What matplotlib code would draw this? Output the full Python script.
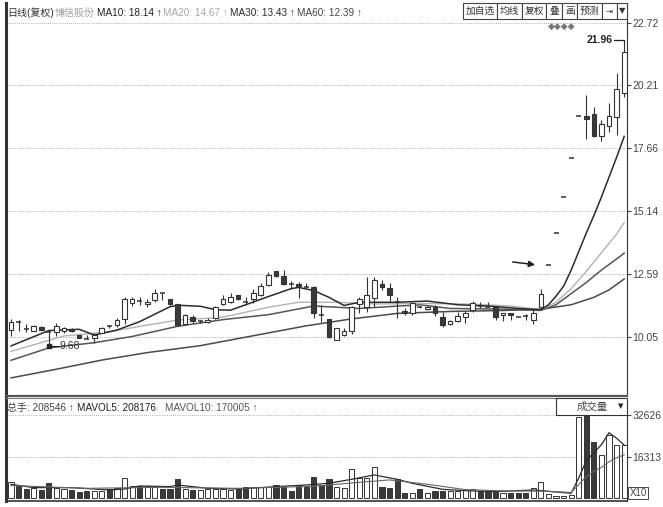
import matplotlib
matplotlib.use('Agg')
import matplotlib.pyplot as plt
from matplotlib.patches import Rectangle

plt.rcParams['font.family'] = ['Liberation Sans', 'Noto Sans CJK SC', 'DejaVu Sans']

# 日K线 (复权) 数据
opens = [10.33, 10.67, 10.40, 10.31, 10.47, 10.28, 10.27, 10.31, 10.39, 10.13,
         9.97, 10.00, 10.23, 10.50, 10.53, 10.76, 11.43, 11.52, 11.38, 11.54,
         11.82, 11.57, 11.38, 10.57, 10.87, 10.67, 10.66, 10.80, 11.38, 11.47,
         11.74, 11.48, 11.57, 11.74, 12.15, 12.71, 12.51, 12.20, 12.19, 12.06,
         12.05, 10.95, 10.76, 9.93, 10.13, 10.31, 11.38, 11.25, 11.61, 12.19,
         12.01, 11.48, 11.10, 11.00, 11.29, 11.17, 11.27, 10.84, 10.57, 10.71,
         10.87, 11.14, 11.30, 11.29, 11.27, 10.94, 11.00, 10.88, 10.92, 10.74,
         11.25, 12.96, 14.26, 15.68, 17.25, 18.97, 18.96, 19.04, 18.15, 18.56,
         18.92, 19.89]
highs = [10.76, 10.72, 10.57, 10.52, 10.49, 10.33, 10.63, 10.47, 10.42, 10.15,
         10.13, 10.20, 10.44, 10.53, 10.80, 11.68, 11.68, 11.68, 11.57, 11.97,
         11.82, 11.60, 11.40, 10.96, 10.94, 10.75, 10.80, 11.30, 11.74, 11.84,
         11.76, 11.68, 11.97, 12.24, 12.68, 12.73, 12.75, 12.32, 12.28, 12.21,
         12.11, 11.34, 10.78, 10.42, 10.40, 11.30, 11.68, 12.48, 12.46, 12.35,
         12.21, 11.68, 11.21, 11.47, 11.30, 11.29, 11.33, 11.07, 10.73, 11.07,
         11.10, 11.51, 11.47, 11.47, 11.30, 11.03, 11.02, 10.89, 10.98, 11.14,
         11.97, 12.96, 14.26, 15.68, 17.25, 18.97, 19.81, 19.32, 18.80, 19.49,
         20.70, 21.96]
lows = [10.09, 10.28, 10.27, 10.29, 10.31, 9.68, 10.09, 10.20, 10.26, 9.99,
        9.95, 9.80, 10.20, 10.40, 10.47, 10.57, 11.30, 11.34, 11.25, 11.47,
        11.54, 11.36, 10.49, 10.55, 10.60, 10.62, 10.60, 10.78, 11.34, 11.43,
        11.56, 11.34, 11.41, 11.70, 12.11, 12.48, 12.15, 11.97, 11.61, 12.01,
        10.80, 10.67, 10.00, 9.91, 10.09, 10.17, 11.00, 11.07, 11.25, 11.94,
        11.47, 10.80, 10.94, 10.94, 11.22, 11.15, 10.90, 10.44, 10.55, 10.67,
        10.63, 11.07, 11.21, 11.25, 10.74, 10.71, 10.74, 10.86, 10.74, 10.57,
        11.21, 12.96, 14.26, 15.68, 17.25, 18.97, 18.03, 18.10, 17.95, 18.32,
        18.20, 19.73]
closes = [10.67, 10.66, 10.39, 10.49, 10.33, 10.26, 10.49, 10.40, 10.28, 10.00,
          9.96, 10.13, 10.40, 10.49, 10.73, 11.57, 11.57, 11.51, 11.47, 11.84,
          11.81, 11.38, 10.53, 10.94, 10.71, 10.69, 10.72, 11.27, 11.57, 11.68,
          11.58, 11.47, 11.81, 12.11, 12.55, 12.51, 12.19, 12.19, 12.11, 12.05,
          11.00, 10.94, 10.04, 10.40, 10.29, 11.25, 11.57, 11.74, 12.35, 12.08,
          11.74, 11.47, 11.00, 11.41, 11.27, 11.27, 11.00, 10.53, 10.71, 10.90,
          11.03, 11.41, 11.28, 11.27, 10.84, 11.00, 10.94, 10.87, 10.91, 11.03,
          11.78, 12.96, 14.26, 15.68, 17.25, 18.97, 18.84, 18.15, 18.64, 18.96,
          20.05, 21.55]
# 成交量 (X10)
volumes = [6264, 4829, 3524, 4046, 3263, 6134, 4176, 3524, 3263, 2610,
           2871, 2871, 2871, 3524, 4176, 8091, 4829, 4829, 4829, 4568,
           3524, 3524, 7439, 3654, 3263, 3263, 3524, 3654, 3654, 3263,
           3524, 4568, 4307, 4307, 4568, 5220, 4307, 2871, 5220, 4307,
           8483, 5220, 7700, 4568, 4176, 11484, 8091, 7830, 12398, 4568,
           4176, 7439, 2219, 2219, 3524, 2219, 3002, 3002, 3002, 3002,
           3263, 3524, 3002, 3002, 3002, 1958, 1958, 1958, 1958, 3915,
           6525, 1697, 900, 900, 1175, 31973, 34500, 22185, 16965, 24795,
           20880, 20855]

# 均线 (读图取点)
ma10_idx = [0, 5, 9, 11, 14, 17, 21, 22, 25, 27, 29, 34, 37, 38, 40, 42, 44, 46,
            48, 51, 55, 59, 63, 67, 70, 71, 72, 73, 74, 75, 76, 77, 78, 79, 80, 81]
ma10_val = [9.69, 10.31, 10.36, 10.13, 10.33, 10.67, 11.27, 11.33, 11.29, 11.15,
            11.13, 11.68, 12.0, 12.05, 11.92, 11.65, 11.32, 11.45, 11.45, 11.45,
            11.5, 11.35, 11.3, 11.2, 11.15, 11.35, 11.7, 12.1, 12.75, 13.5,
            14.25, 14.95, 15.7, 16.5, 17.3, 18.14]
ma20_idx = [0, 7, 13, 18, 22, 28, 34, 38, 43, 48, 54, 60, 66, 70, 72, 74, 76, 78, 80, 81]
ma20_val = [9.47, 10.09, 10.26, 10.53, 10.73, 10.85, 11.25, 11.45, 11.45, 11.38,
            11.4, 11.38, 11.3, 11.15, 11.45, 12.0, 12.7, 13.45, 14.2, 14.67]
ma30_idx = [0, 5, 11, 16, 22, 28, 34, 40, 46, 54, 58, 64, 70, 72, 74, 76, 78, 80, 81]
ma30_val = [9.11, 9.61, 9.82, 10.07, 10.48, 10.75, 10.95, 11.3, 11.2, 11.35,
            11.2, 11.18, 11.12, 11.35, 11.8, 12.25, 12.75, 13.2, 13.43]
ma60_idx = [0, 6, 12, 18, 25, 32, 39, 45, 51, 58, 65, 70, 74, 77, 79, 81]
ma60_val = [8.40, 8.75, 9.12, 9.42, 9.70, 10.1, 10.5, 10.78, 11.0, 11.08,
            11.12, 11.17, 11.35, 11.65, 11.95, 12.39]

mavol5_idx = [0, 3, 8, 13, 15, 17, 21, 22, 26, 30, 35, 39, 42, 45, 48, 51, 53, 57,
              60, 64, 69, 73, 74, 75, 76, 77, 78, 79, 80, 81]
mavol5_val = [5481, 4176, 4176, 3263, 3654, 4829, 4568, 5220, 3915, 3654, 4568,
              5220, 5873, 7439, 9135, 7439, 5873, 3524, 3002, 2610, 3263, 2219,
              1958, 8000, 14800, 17900, 21000, 25700, 23500, 20818]
mavol10_idx = [0, 10, 20, 30, 40, 45, 50, 55, 60, 65, 70, 74, 75, 76, 77, 78, 79, 80, 81]
mavol10_val = [5000, 3900, 4300, 3900, 4700, 6000, 7200, 5500, 3400, 2900, 2800,
               2300, 5400, 8500, 10600, 12100, 14300, 15900, 17000]

price_ticks = [10.05, 12.59, 15.14, 17.66, 20.21, 22.72]
vol_ticks = [16313, 32626]
buttons = ['加自选', '均线', '复权', '叠', '画', '预测', '⇥', '▼']
button_edges = [463, 497, 522, 546, 562, 577, 602, 617, 627]

W, H = 663, 507
fig = plt.figure(figsize=(W / 100, H / 100), dpi=100)


def fx(px):
    return px / W


def fy(py):
    return 1 - py / H


DARK = '#333333'
GRID = dict(linestyle=(0, (1, 1.5)), color='#9a9a9a', lw=0.6)

# ---- K线 ----
ax = fig.add_axes([fx(6), fy(396), fx(627) - fx(6), fy(3) - fy(396)])
n = len(closes)
xs = list(range(n))
ax.set_xlim(-0.66, 81.37)
ax.set_ylim(7.67, 23.52)

ax.vlines(xs, lows, highs, color=DARK, lw=0.8, zorder=3)
for i in xs:
    o, c = opens[i], closes[i]
    body = abs(c - o)
    if body < 0.03:
        ax.hlines(c, i - 0.33, i + 0.33, color=DARK, lw=1.1, zorder=4)
    else:
        ax.bar(i, body, bottom=min(o, c), width=0.62,
               facecolor='white' if c >= o else '#3a3a3a',
               edgecolor=DARK, lw=0.8, zorder=4)

ax.plot(ma60_idx, ma60_val, color='#4a4a4a', lw=1.1, zorder=2)
ax.plot(ma30_idx, ma30_val, color='#555555', lw=1.1, zorder=2)
ax.plot(ma20_idx, ma20_val, color='#b3b3b3', lw=1.0, zorder=2)
ax.plot(ma10_idx, ma10_val, color='#2b2b2b', lw=1.1, zorder=2)

ax.yaxis.tick_right()
ax.set_yticks(price_ticks)
ax.set_yticklabels(['%.2f' % v for v in price_ticks])
ax.tick_params(axis='y', labelsize=7.5, colors='#444444', length=3, pad=1)
ax.set_xticks([])
ax.grid(axis='y', **GRID)
ax.spines['top'].set_visible(False)
ax.spines['left'].set_linewidth(2.2)
ax.spines['left'].set_color(DARK)
ax.spines['right'].set_color(DARK)
ax.spines['bottom'].set_linewidth(1.6)
ax.spines['bottom'].set_color('#555555')

# 标注
ax.annotate('', xy=(69.6, 12.95), xytext=(65.9, 13.09),
            arrowprops=dict(arrowstyle='-|>', color='#222222', lw=1.1,
                            mutation_scale=9))
ax.plot([79.6, 81, 81], [22.02, 22.02, 21.96], color='#222222', lw=0.9)
ax.text(79.5, 22.02, '21.96', fontsize=7.5, ha='right', va='center',
        color='#222222', weight='bold')
ax.plot(5, 9.68, marker='s', ms=2.5, color='#222222')
ax.plot([5, 6.3], [9.68, 9.68], color='#222222', lw=0.8)
ax.text(6.4, 9.68, '9.68', fontsize=7.5, ha='left', va='center', color='#333333')

# ---- 成交量 ----
axv = fig.add_axes([fx(6), fy(501), fx(627) - fx(6), fy(398) - fy(501)])
axv.set_xlim(-0.66, 81.37)
axv.set_ylim(-1057, 39267)
vol_colors = ['white' if closes[i] >= opens[i] else '#3a3a3a' for i in xs]
axv.bar(xs, volumes, width=0.68, color=vol_colors, edgecolor=DARK, lw=0.7, zorder=3)
axv.plot(mavol5_idx, mavol5_val, color='#2b2b2b', lw=0.9, zorder=4)
axv.plot(mavol10_idx, mavol10_val, color='#666666', lw=0.8, zorder=4)
axv.yaxis.tick_right()
axv.set_yticks(vol_ticks)
axv.set_yticklabels([str(v) for v in vol_ticks])
axv.tick_params(axis='y', labelsize=7.5, colors='#444444', length=3, pad=1)
axv.set_xticks([])
axv.grid(axis='y', **GRID)
axv.spines['left'].set_linewidth(2.2)
axv.spines['left'].set_color(DARK)
axv.spines['right'].set_color(DARK)
axv.spines['top'].set_color('#777777')
axv.spines['bottom'].set_color(DARK)
axv.spines['bottom'].set_linewidth(1.2)

# 成交量 选择框
axv.add_patch(Rectangle((fx(556), fy(415)), fx(627) - fx(556), fy(398) - fy(415),
                        transform=fig.transFigure, facecolor='white',
                        edgecolor=DARK, lw=0.8, zorder=5))
fig.text(fx(592), fy(407), '成交量', fontsize=7.5, ha='center', va='center',
         color='#444444', zorder=6)
fig.text(fx(621), fy(406), '▼', fontsize=5, ha='center', va='center',
         color='#222222', family='DejaVu Sans', zorder=6)
fig.text(fx(638), fy(493), 'X10', fontsize=7, ha='center', va='center',
         color='#444444',
         bbox=dict(boxstyle='square,pad=0.15', facecolor='white',
                   edgecolor='#444444', lw=0.7))

# ---- 顶部文字 ----
head_y = fy(13)
fig.text(fx(7), head_y, '日线(复权)', fontsize=7.2, va='center', color='#333333')
fig.text(fx(55), head_y, '博信股份', fontsize=7.2, va='center', color='#a0a0a0')
fig.text(fx(97), head_y, 'MA10: 18.14 ↑', fontsize=7.2, va='center', color='#222222')
fig.text(fx(163), head_y, 'MA20: 14.67 ↑', fontsize=7.2, va='center', color='#a8a8a8')
fig.text(fx(230), head_y, 'MA30: 13.43 ↑', fontsize=7.2, va='center', color='#2a2a2a')
fig.text(fx(297), head_y, 'MA60: 12.39 ↑', fontsize=7.2, va='center', color='#444444')

for k, lab in enumerate(buttons):
    x0, x1 = button_edges[k], button_edges[k + 1]
    fig.patches.append(Rectangle((fx(x0), fy(19)), fx(x1) - fx(x0), fy(3) - fy(19),
                                 transform=fig.transFigure, facecolor='white',
                                 edgecolor='#444444', lw=0.8))
    fam = ['DejaVu Sans'] if lab in ('⇥', '▼') else None
    fig.text(fx((x0 + x1) / 2), fy(11), lab, fontsize=7 if fam is None else 6,
             ha='center', va='center', color='#333333',
             family=fam if fam else plt.rcParams['font.family'])
fig.text(fx(562), fy(26), '◆◆◆◆', fontsize=6.5, ha='center', va='center',
         color='#777777', family='DejaVu Sans')

vol_y = fy(408)
fig.text(fx(7), vol_y, '总手: 208546 ↑', fontsize=7.2, va='center', color='#444444')
fig.text(fx(77), vol_y, 'MAVOL5: 208176', fontsize=7.2, va='center', color='#222222')
fig.text(fx(155), vol_y, '↓', fontsize=6.5, va='center', color='#bbbbbb')
fig.text(fx(165), vol_y, 'MAVOL10: 170005 ↑', fontsize=7.2, va='center', color='#555555')

fig.savefig('out.png', dpi=100)
